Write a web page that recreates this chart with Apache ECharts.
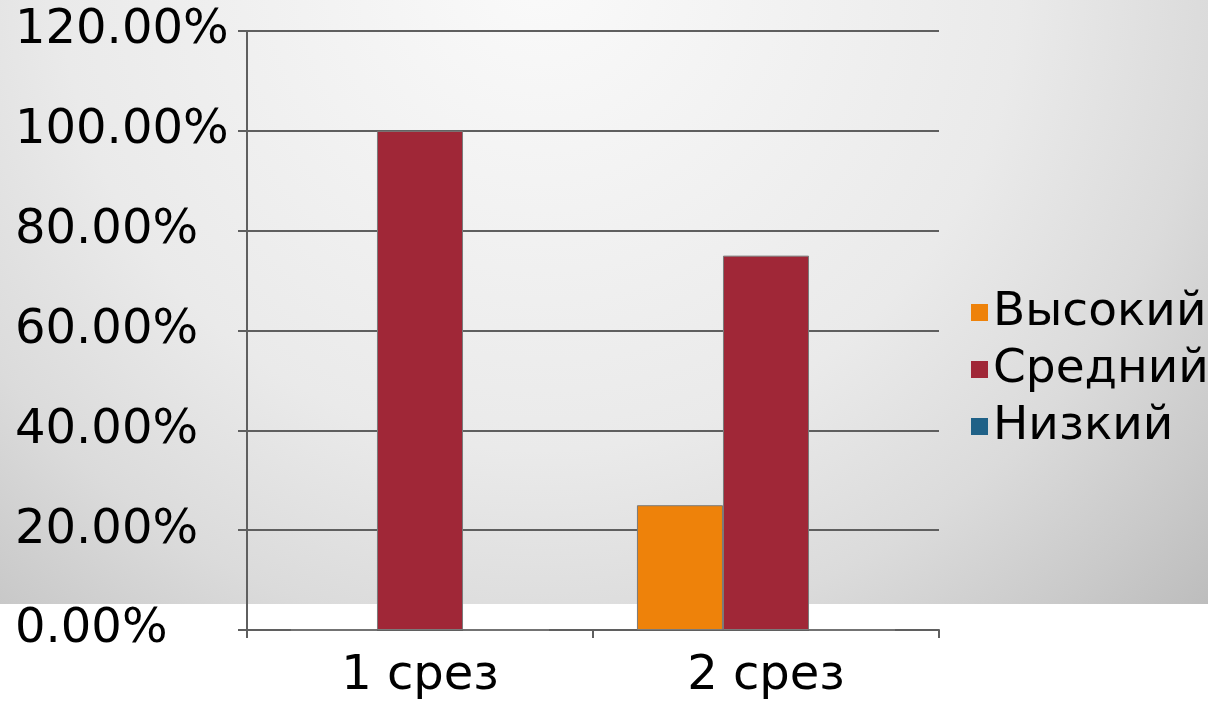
<!DOCTYPE html>
<html>
<head>
<meta charset="utf-8">
<script src="https://cdn.jsdelivr.net/npm/echarts@6/dist/echarts.min.js"></script>
<style>html,body{margin:0;padding:0;background:#fff}#c{width:1208px;height:701px}</style>
</head>
<body>
<div id="c"></div>
<script>
const categories = ['1 срез', '2 срез'];
const seriesNames = ['Высокий', 'Средний', 'Низкий'];
const vysokiy = [0, 25];
const sredniy = [100, 75];
const nizkiy = [0, 0];
const colors = ['#EE820A', '#A02737', '#1F6187'];

const chart = echarts.init(document.getElementById('c'));
const font = 'DejaVu Sans';
const mk = (name, data, color) => ({
  name, type: 'bar', data,
  barGap: '0%', barCategoryGap: '25.4%',
  itemStyle: { color, borderColor: '#7a7a7a', borderWidth: 1 }
});
chart.setOption({
  backgroundColor: '#ffffff',
  animation: false,
  graphic: [{
    type: 'rect', z: -10, silent: true,
    shape: { x: 0, y: 0, width: 1208, height: 604 },
    style: {
      fill: new echarts.graphic.RadialGradient(540, -30, 960, [
        { offset: 0, color: '#fafafa' },
        { offset: 0.5, color: '#eaeaea' },
        { offset: 0.7, color: '#dbdbdb' },
        { offset: 0.85, color: '#cacaca' },
        { offset: 1, color: '#b8b8b8' }
      ], true)
    }
  }],
  legend: {
    orient: 'vertical', left: 966, top: 282,
    itemWidth: 17, itemHeight: 17, itemGap: 6,
    icon: 'rect',
    data: seriesNames,
    itemStyle: { borderWidth: 0 },
    textStyle: { fontFamily: font, fontSize: 47, color: '#000', lineHeight: 51, padding: [0, 0, 0, 0] }
  },
  grid: { left: 247, right: 269, top: 31, bottom: 71, containLabel: false },
  xAxis: {
    type: 'category', data: categories,
    axisLine: { show: true, lineStyle: { color: '#5f5f5f', width: 2 } },
    axisTick: { show: true, length: 8, inside: false, lineStyle: { color: '#5f5f5f', width: 2 } },
    axisLabel: { fontFamily: font, fontSize: 48, color: '#000', margin: 23 }
  },
  yAxis: {
    type: 'value', min: 0, max: 120, interval: 20,
    axisLine: { show: true, lineStyle: { color: '#5f5f5f', width: 2 } },
    axisTick: { show: true, length: 9, lineStyle: { color: '#5f5f5f', width: 2 } },
    splitLine: { show: true, lineStyle: { color: '#5f5f5f', width: 2 } },
    axisLabel: { fontFamily: font, fontSize: 48, color: '#000', margin: 232, align: 'left',
      formatter: v => v.toFixed(2) + '%' }
  },
  series: [
    mk(seriesNames[0], vysokiy, colors[0]),
    mk(seriesNames[1], sredniy, colors[1]),
    mk(seriesNames[2], nizkiy, colors[2])
  ]
});
</script>
</body>
</html>
